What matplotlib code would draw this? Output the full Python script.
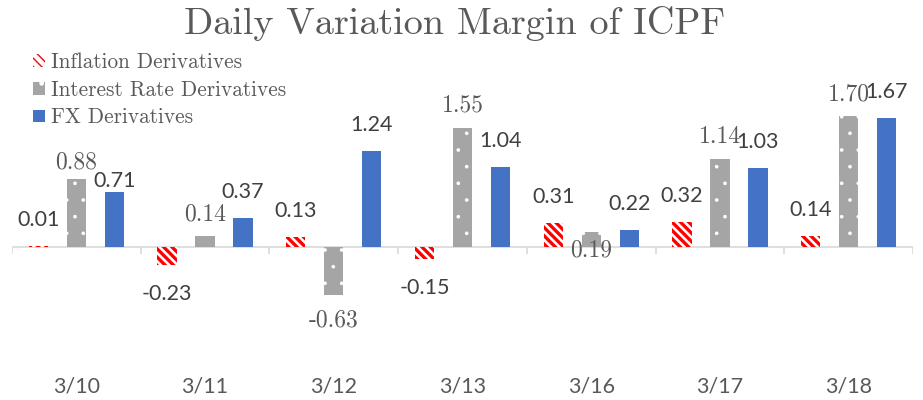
import numpy as np
import matplotlib.pyplot as plt
from matplotlib.patches import Patch

dates = ["3/10", "3/11", "3/12", "3/13", "3/16", "3/17", "3/18"]
inflation = [0.01, -0.23, 0.13, -0.15, 0.31, 0.32, 0.14]
interest = [0.88, 0.14, -0.63, 1.55, 0.19, 1.14, 1.70]
fx = [0.71, 0.37, 1.24, 1.04, 0.22, 1.03, 1.67]

CM = "cmr10"
SANS = "Lato"
RED = "#FF0000"
GRAY = "#A5A5A5"
BLUE = "#4472C4"

fig = plt.figure(figsize=(9.23, 4.0), dpi=100)
ax = fig.add_axes([12 / 923, 0.1, 901 / 923, 0.8])

x = np.arange(len(dates))
w = 0.15
off = 0.295

with plt.rc_context({"hatch.linewidth": 2.4}):
    b1 = ax.bar(x - off, inflation, w, facecolor="white", edgecolor=RED,
                hatch="\\\\\\\\", linewidth=0)
    red_h = Patch(facecolor="white", edgecolor=RED, hatch="\\\\\\\\", linewidth=0)
with plt.rc_context({"hatch.linewidth": 0.2}):
    b2 = ax.bar(x, interest, w, color=GRAY, edgecolor="white", hatch=".",
                linewidth=0)
    gray_h = Patch(facecolor=GRAY, edgecolor="white", hatch=".", linewidth=0)
b3 = ax.bar(x + off, fx, w, color=BLUE, linewidth=0)

ax.set_xlim(-0.5, len(dates) - 0.5)
ax.set_ylim(-1.468, 2.688)
for s in ax.spines.values():
    s.set_visible(False)
ax.set_yticks([])
ax.set_xticks(x)
ax.set_xticklabels(dates, fontfamily=SANS, fontsize=15.5, color="#595959")
ax.tick_params(axis="x", length=0, pad=12)

# zero axis with category separators
ax.axhline(0, color="#D9D9D9", lw=1.2, zorder=0)
ax.vlines(np.arange(len(dates) + 1) - 0.5, -0.09, 0, color="#D9D9D9", lw=1.2)

def label(xs, vals, dy, font, size, color, nudge={}):
    for i, (xi, v) in enumerate(zip(xs, vals)):
        d = nudge.get(i, dy if v >= 0 else -dy - 3)
        ax.annotate(f"{v:.2f}", (xi, v), xytext=(0, d), textcoords="offset pixels",
                    ha="center", va="center", fontfamily=font, fontsize=size,
                    color=color)

label(x - off, inflation, 26, SANS, 15.5, "#404040")
label(x, interest, 22, CM, 17, "#595959", nudge={0: 17, 4: -18})
label(x + off, fx, 26, SANS, 15.5, "#404040", nudge={0: 11})

fig.text(0.493, 0.942, "Daily Variation Margin of ICPF", ha="center", va="center",
         fontfamily=CM, fontsize=27.5, color="#595959")

handles = [red_h, gray_h, Patch(facecolor=BLUE, linewidth=0)]
fig.legend(handles, ["Inflation Derivatives", "Interest Rate Derivatives", "FX Derivatives"],
           loc="upper left", bbox_to_anchor=(0.036, 0.868), frameon=False,
           prop={"family": CM, "size": 15.3}, labelcolor="#595959",
           handlelength=0.55, handleheight=0.55, handletextpad=0.3,
           labelspacing=0.38, borderpad=0, borderaxespad=0)

fig.savefig("out.png", dpi=100)
